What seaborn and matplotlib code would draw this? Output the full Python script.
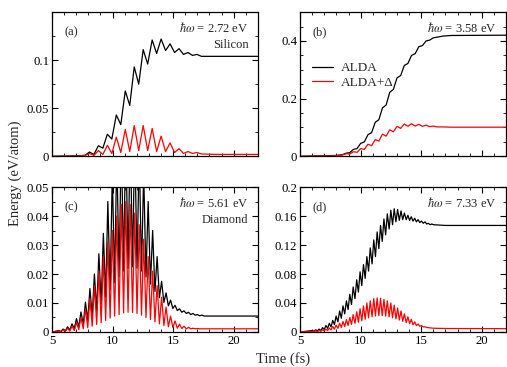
import numpy as np
import pandas as pd
import seaborn as sns
import matplotlib.pyplot as plt
from matplotlib.ticker import MultipleLocator, FuncFormatter

# panel (a) silicon, 2.72 eV
t_a = [5.0, 7.0, 7.72, 8.09, 8.46, 8.83, 9.2, 9.57, 9.94, 10.31, 10.68, 11.05, 11.42, 11.79,
       12.16, 12.53, 12.9, 13.27, 13.64, 14.01, 14.38, 14.75, 15.12, 15.49, 15.86, 16.23,
       16.6, 16.97, 17.34, 18.5, 22.0]
alda_a = [0, 0.0005, 0.001, 0.0045, 0.002, 0.011, 0.0085, 0.023, 0.018, 0.043, 0.033, 0.068,
          0.053, 0.093, 0.075, 0.111, 0.096, 0.121, 0.107, 0.122, 0.110, 0.117, 0.108, 0.112,
          0.106, 0.108, 0.105, 0.106, 0.104, 0.104, 0.104]
delta_a = [0, 0.0003, 0.001, 0.003, 0.001, 0.006, 0.002, 0.0115, 0.003, 0.020, 0.004, 0.028,
           0.005, 0.032, 0.006, 0.032, 0.006, 0.029, 0.005, 0.021, 0.005, 0.014, 0.004, 0.008,
           0.003, 0.005, 0.003, 0.004, 0.0025, 0.002, 0.002]

# panel (b) silicon, 3.58 eV
t_b = [5.0, 8.0, 8.5, 8.8, 9.1, 9.4, 9.7, 10.0, 10.3, 10.6, 10.9, 11.2, 11.5, 11.8, 12.1,
       12.4, 12.7, 13.0, 13.3, 13.6, 13.9, 14.2, 14.5, 14.8, 15.1, 15.4, 15.7, 16.0, 16.3,
       16.8, 17.5, 22.0]
alda_b = [0, 0.003, 0.006, 0.011, 0.013, 0.024, 0.027, 0.045, 0.05, 0.075, 0.082, 0.118,
          0.127, 0.168, 0.178, 0.222, 0.232, 0.272, 0.28, 0.315, 0.322, 0.35, 0.356, 0.38,
          0.384, 0.4, 0.403, 0.411, 0.413, 0.417, 0.419, 0.42]
delta_b = [0, 0.002, 0.005, 0.009, 0.008, 0.016, 0.014, 0.027, 0.024, 0.042, 0.037, 0.058,
           0.053, 0.077, 0.07, 0.092, 0.085, 0.104, 0.097, 0.112, 0.104, 0.113, 0.105, 0.111,
           0.104, 0.108, 0.103, 0.105, 0.102, 0.102, 0.101, 0.101]

# panel (c) diamond, 5.61 eV  (peak / trough pairs)
t_c = [5.0,
       5.54, 5.73, 5.91, 6.10, 6.28, 6.47, 6.65, 6.84, 7.02, 7.21, 7.39, 7.58, 7.76, 7.95,
       8.13, 8.32, 8.50, 8.69, 8.87, 9.06, 9.24, 9.43, 9.61, 9.80, 9.98, 10.17, 10.35, 10.54,
       10.72, 10.91, 11.09, 11.28, 11.46, 11.65, 11.83, 12.02, 12.20, 12.39, 12.57, 12.76,
       12.94, 13.13, 13.31, 13.50, 13.68, 13.87, 14.05, 14.24, 14.42, 14.61, 14.79, 14.98,
       15.16, 15.35, 15.53, 15.72, 15.90, 16.09, 16.27, 16.46, 16.64, 16.83, 17.01, 17.20,
       17.38, 17.57,
       18.5, 22.0]
alda_c = [0,
          0.0005, 0.0002, 0.001, 0.0004, 0.0018, 0.0007, 0.0028, 0.0012, 0.0046, 0.0018,
          0.0069, 0.0027, 0.0103, 0.004, 0.015, 0.0055, 0.020, 0.0075, 0.027, 0.0095,
          0.034, 0.012, 0.045, 0.0145, 0.055, 0.017, 0.062, 0.019, 0.068, 0.021,
          0.07, 0.022, 0.07, 0.0225, 0.068, 0.022, 0.063, 0.021, 0.055, 0.019,
          0.045, 0.0165, 0.035, 0.014, 0.026, 0.0118, 0.0175, 0.0102, 0.0135, 0.009,
          0.011, 0.0081, 0.0092, 0.0074, 0.008, 0.0068, 0.0073, 0.0064, 0.0068, 0.006,
          0.0064, 0.0058, 0.006, 0.0056, 0.0058, 0.0055,
          0.0055, 0.0055]
delta_c = [0,
           0.0003, 0.0001, 0.0007, 0.0002, 0.0013, 0.0003, 0.002, 0.0005, 0.0032, 0.0008,
           0.005, 0.0011, 0.008, 0.0015, 0.0115, 0.002, 0.016, 0.0026, 0.021, 0.0032,
           0.026, 0.004, 0.031, 0.0048, 0.035, 0.0055, 0.040, 0.006, 0.044, 0.0066,
           0.045, 0.0068, 0.044, 0.0067, 0.041, 0.0064, 0.037, 0.0058, 0.032, 0.005,
           0.026, 0.0043, 0.021, 0.0035, 0.016, 0.0028, 0.012, 0.0022, 0.0086, 0.0018,
           0.0055, 0.0015, 0.0038, 0.0013, 0.0027, 0.0012, 0.002, 0.0011, 0.0016, 0.0011,
           0.0013, 0.0011, 0.0012, 0.0011, 0.0011, 0.0011,
           0.0011, 0.0011]

# panel (d) diamond, 7.33 eV  (peak / trough pairs)
t_d = [5.0,
       6.00, 6.14, 6.28, 6.42, 6.56, 6.71, 6.85, 6.99, 7.13, 7.27, 7.41, 7.55, 7.69, 7.83,
       7.97, 8.12, 8.26, 8.40, 8.54, 8.68, 8.82, 8.96, 9.10, 9.24, 9.38, 9.53, 9.67, 9.81,
       9.95, 10.09, 10.23, 10.37, 10.51, 10.65, 10.79, 10.94, 11.08, 11.22, 11.36, 11.50,
       11.64, 11.78, 11.92, 12.06, 12.20, 12.35, 12.49, 12.63, 12.77, 12.91, 13.05, 13.19,
       13.33, 13.47, 13.61, 13.76, 13.90, 14.04, 14.18, 14.32, 14.46, 14.60, 14.74, 14.88,
       15.02, 15.17, 15.31, 15.45, 15.59, 15.73, 15.87, 16.01,
       17.0, 22.0]
alda_d = [0,
          0.002, 0.001, 0.003, 0.0015, 0.004, 0.002, 0.006, 0.0035, 0.009, 0.005,
          0.012, 0.007, 0.016, 0.01, 0.022, 0.014, 0.029, 0.019, 0.036, 0.025,
          0.043, 0.031, 0.052, 0.038, 0.062, 0.046, 0.072, 0.055, 0.083, 0.064,
          0.093, 0.074, 0.104, 0.084, 0.116, 0.094, 0.127, 0.104, 0.138, 0.115,
          0.147, 0.125, 0.156, 0.134, 0.163, 0.142, 0.168, 0.148, 0.17, 0.152,
          0.169, 0.154, 0.167, 0.155, 0.164, 0.155, 0.161, 0.154, 0.159, 0.153,
          0.157, 0.152, 0.155, 0.151, 0.153, 0.15, 0.152, 0.149, 0.15, 0.148,
          0.149, 0.148,
          0.147, 0.147]
delta_d = [0,
           0.001, 0.0005, 0.0015, 0.0007, 0.002, 0.001, 0.003, 0.0015, 0.004, 0.002,
           0.0055, 0.0028, 0.0075, 0.0038, 0.0095, 0.005, 0.012, 0.0062, 0.0145, 0.0075,
           0.017, 0.009, 0.02, 0.0105, 0.024, 0.012, 0.028, 0.0135, 0.032, 0.0155,
           0.036, 0.0175, 0.04, 0.0195, 0.043, 0.021, 0.046, 0.022, 0.047, 0.0225,
           0.0465, 0.0225, 0.045, 0.022, 0.043, 0.021, 0.04, 0.0195, 0.037, 0.018,
           0.033, 0.0165, 0.029, 0.0148, 0.025, 0.013, 0.021, 0.0115, 0.0175, 0.01,
           0.014, 0.0088, 0.011, 0.0078, 0.0088, 0.007, 0.0072, 0.0063, 0.006, 0.0057,
           0.0054, 0.0052,
           0.0048, 0.0046]

panels = [
    ('(a)', t_a, alda_a, delta_a, 0.15, 0.05, 0.025, '2.72', 'Silicon'),
    ('(b)', t_b, alda_b, delta_b, 0.5, 0.2, 0.05, '3.58', None),
    ('(c)', t_c, alda_c, delta_c, 0.05, 0.01, 0.005, '5.61', 'Diamond'),
    ('(d)', t_d, alda_d, delta_d, 0.2, 0.04, 0.02, '7.33', None),
]

sns.set_style('ticks')
plt.rcParams['font.family'] = ['Liberation Serif', 'DejaVu Serif']
plt.rcParams['mathtext.fontset'] = 'stix'
plt.rcParams['xtick.direction'] = 'in'
plt.rcParams['ytick.direction'] = 'in'
plt.rcParams['xtick.top'] = True
plt.rcParams['ytick.right'] = True
plt.rcParams['axes.edgecolor'] = 'black'
plt.rcParams['axes.linewidth'] = 0.9

fig = plt.figure(figsize=(5.07, 3.67), dpi=100)
rects = [(0.1026, 0.574, 0.406, 0.393), (0.592, 0.574, 0.406, 0.393),
         (0.1026, 0.0954, 0.406, 0.395), (0.592, 0.0954, 0.406, 0.395)]

fmt = FuncFormatter(lambda v, p: '%g' % round(v, 4))

for i, (tag, t, alda, delta, ytop, ymaj, ymin, hw, mat) in enumerate(panels):
    ax = fig.add_axes(rects[i])
    df = pd.DataFrame({'t': t, 'ALDA': alda, 'ALDA+Δ': delta})
    sns.lineplot(data=df, x='t', y='ALDA', ax=ax, color='black', lw=0.9,
                 estimator=None, sort=False, label='ALDA' if i == 1 else None, legend=False)
    sns.lineplot(data=df, x='t', y='ALDA+Δ', ax=ax, color='#ff0000', lw=0.9,
                 estimator=None, sort=False, label='ALDA+Δ' if i == 1 else None, legend=False)
    ax.set_xlim(5, 22)
    ax.set_ylim(0, ytop)
    ax.xaxis.set_major_locator(MultipleLocator(5))
    ax.xaxis.set_minor_locator(MultipleLocator(1))
    if i == 0:
        ax.set_yticks([0, 0.05, 0.1])
    elif i == 1:
        ax.set_yticks([0, 0.2, 0.4])
    else:
        ax.yaxis.set_major_locator(MultipleLocator(ymaj))
    ax.yaxis.set_minor_locator(MultipleLocator(ymin))
    ax.yaxis.set_major_formatter(fmt)
    ax.tick_params(which='major', length=4, width=0.8, labelsize=9.2, pad=2, colors='black')
    ax.tick_params(which='minor', length=2, width=0.7)
    ax.set_xlabel('')
    ax.set_ylabel('')
    if i < 2:
        ax.tick_params(labelbottom=False)
    ax.text(0.06, 0.86, tag, transform=ax.transAxes, fontsize=9, va='center')
    ax.text(0.955, 0.89, r'$\hbar\omega$ = ' + hw + ' eV', transform=ax.transAxes,
            fontsize=9, ha='right', va='center')
    if mat:
        ax.text(0.955, 0.775, mat, transform=ax.transAxes, fontsize=9, ha='right', va='center')
    if i == 1:
        ax.legend(loc='upper left', bbox_to_anchor=(0.0, 0.735), frameon=False,
                  fontsize=9.5, handlelength=1.6, handletextpad=0.6, labelspacing=0.15)

fig.text(0.03, 0.527, 'Energy (eV/atom)', rotation=90, ha='center', va='center', fontsize=10.5)
fig.text(0.558, 0.004, 'Time (fs)', ha='center', va='bottom', fontsize=10.5)

fig.savefig('out.png', dpi=100)
